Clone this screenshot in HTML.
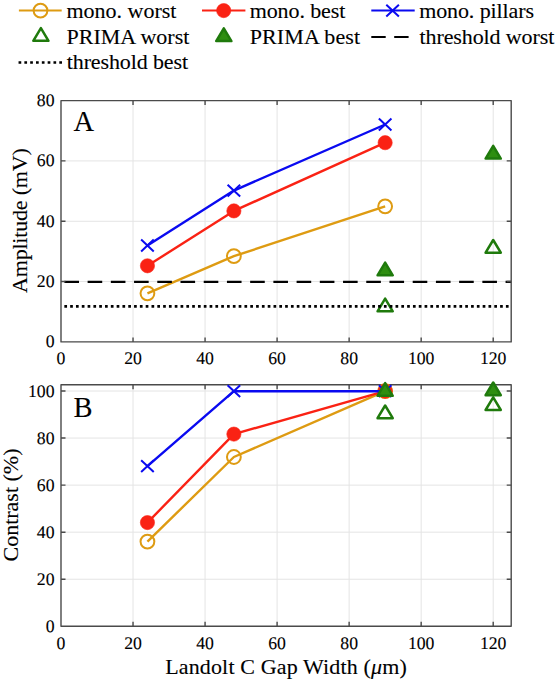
<!DOCTYPE html>
<html><head><meta charset="utf-8"><style>
html,body{margin:0;padding:0;background:#fff;}
svg{display:block;}
text{font-family:"Liberation Serif", serif;fill:#000;}
.b{stroke:#000;stroke-width:0.12px;}
.tk{stroke:#000;stroke-width:0.1px;text-rendering:geometricPrecision;}
</style></head><body>
<svg width="556" height="682" viewBox="0 0 556 682">
<defs>
<clipPath id="ca"><rect x="61.0" y="100.6" width="450.2" height="241.29999999999998"/></clipPath>
<clipPath id="cb"><rect x="61.0" y="384.8" width="450.2" height="241.40000000000003"/></clipPath>
</defs>
<rect width="556" height="682" fill="#fff"/>
<line x1="133.03" y1="100.60" x2="133.03" y2="341.90" stroke="#e4e4e4" stroke-width="1"/>
<line x1="205.07" y1="100.60" x2="205.07" y2="341.90" stroke="#e4e4e4" stroke-width="1"/>
<line x1="277.10" y1="100.60" x2="277.10" y2="341.90" stroke="#e4e4e4" stroke-width="1"/>
<line x1="349.14" y1="100.60" x2="349.14" y2="341.90" stroke="#e4e4e4" stroke-width="1"/>
<line x1="421.17" y1="100.60" x2="421.17" y2="341.90" stroke="#e4e4e4" stroke-width="1"/>
<line x1="493.20" y1="100.60" x2="493.20" y2="341.90" stroke="#e4e4e4" stroke-width="1"/>
<line x1="61.00" y1="281.57" x2="511.20" y2="281.57" stroke="#e4e4e4" stroke-width="1"/>
<line x1="61.00" y1="221.25" x2="511.20" y2="221.25" stroke="#e4e4e4" stroke-width="1"/>
<line x1="61.00" y1="160.92" x2="511.20" y2="160.92" stroke="#e4e4e4" stroke-width="1"/>
<g font-size="17.7">
<text x="61.00" y="364.40" text-anchor="middle" class="tk">0</text>
<text x="133.03" y="364.40" text-anchor="middle" class="tk">20</text>
<text x="205.07" y="364.40" text-anchor="middle" class="tk">40</text>
<text x="277.10" y="364.40" text-anchor="middle" class="tk">60</text>
<text x="349.14" y="364.40" text-anchor="middle" class="tk">80</text>
<text x="421.17" y="364.40" text-anchor="middle" class="tk">100</text>
<text x="493.20" y="364.40" text-anchor="middle" class="tk">120</text>
<text x="54.50" y="347.40" text-anchor="end" class="tk">0</text>
<text x="54.50" y="287.07" text-anchor="end" class="tk">20</text>
<text x="54.50" y="226.75" text-anchor="end" class="tk">40</text>
<text x="54.50" y="166.42" text-anchor="end" class="tk">60</text>
<text x="54.50" y="106.10" text-anchor="end" class="tk">80</text>
</g>
<text class="b" x="73.4" y="131.2" font-size="28.5">A</text>
<path d="M147.44 293.30L233.88 256.20L385.15 206.30" fill="none" stroke="#DE9B12" stroke-width="2.4" stroke-linejoin="round"/>
<circle cx="147.44" cy="293.30" r="6.9" fill="none" stroke="#DE9B12" stroke-width="2"/>
<circle cx="233.88" cy="256.20" r="6.9" fill="none" stroke="#DE9B12" stroke-width="2"/>
<circle cx="385.15" cy="206.30" r="6.9" fill="none" stroke="#DE9B12" stroke-width="2"/>
<path d="M147.44 265.80L233.88 210.90L385.15 142.70" fill="none" stroke="#FA2214" stroke-width="2.4" stroke-linejoin="round"/>
<circle cx="147.44" cy="265.80" r="7.1" fill="#FA2214" stroke="#FA2214" stroke-width="0.6"/>
<circle cx="233.88" cy="210.90" r="7.1" fill="#FA2214" stroke="#FA2214" stroke-width="0.6"/>
<circle cx="385.15" cy="142.70" r="7.1" fill="#FA2214" stroke="#FA2214" stroke-width="0.6"/>
<path d="M147.44 245.50L233.88 190.60L385.15 124.50" fill="none" stroke="#0A0AF0" stroke-width="2.4" stroke-linejoin="round"/>
<path d="M141.14 239.60L153.74 251.40M141.14 251.40L153.74 239.60" stroke="#0A0AF0" stroke-width="2" fill="none"/>
<path d="M227.58 184.70L240.18 196.50M227.58 196.50L240.18 184.70" stroke="#0A0AF0" stroke-width="2" fill="none"/>
<path d="M378.85 118.60L391.45 130.40M378.85 130.40L391.45 118.60" stroke="#0A0AF0" stroke-width="2" fill="none"/>
<path d="M385.15 298.60L392.75 311.30L377.55 311.30Z" fill="none" stroke="#1F7A0C" stroke-width="2.5" stroke-linejoin="round"/>
<path d="M493.20 240.00L500.80 252.70L485.60 252.70Z" fill="none" stroke="#1F7A0C" stroke-width="2.5" stroke-linejoin="round"/>
<path d="M385.15 262.60L392.75 275.30L377.55 275.30Z" fill="#2E8E10" stroke="#1F7A0C" stroke-width="2.5" stroke-linejoin="round"/>
<path d="M493.20 145.90L500.80 158.60L485.60 158.60Z" fill="#2E8E10" stroke="#1F7A0C" stroke-width="2.5" stroke-linejoin="round"/>
<g clip-path="url(#ca)">
<line x1="64.4" y1="281.8" x2="530" y2="281.8" stroke="#000" stroke-width="2.2" stroke-dasharray="14.6 8.62"/>
<line x1="64.35" y1="306.4" x2="508.6" y2="306.4" stroke="#000" stroke-width="2.7" stroke-dasharray="2.7 3.11"/>
</g>
<rect x="61.00" y="100.60" width="450.20" height="241.30" fill="none" stroke="#4a4a4a" stroke-width="1.4" stroke-linejoin="round"/>
<path d="M133.03 341.90V337.40M133.03 100.60V105.10M205.07 341.90V337.40M205.07 100.60V105.10M277.10 341.90V337.40M277.10 100.60V105.10M349.14 341.90V337.40M349.14 100.60V105.10M421.17 341.90V337.40M421.17 100.60V105.10M493.20 341.90V337.40M493.20 100.60V105.10M61.00 281.57H65.50M511.20 281.57H506.70M61.00 221.25H65.50M511.20 221.25H506.70M61.00 160.92H65.50M511.20 160.92H506.70" stroke="#4a4a4a" stroke-width="1.4" fill="none"/>
<line x1="133.03" y1="384.80" x2="133.03" y2="626.20" stroke="#e4e4e4" stroke-width="1"/>
<line x1="205.07" y1="384.80" x2="205.07" y2="626.20" stroke="#e4e4e4" stroke-width="1"/>
<line x1="277.10" y1="384.80" x2="277.10" y2="626.20" stroke="#e4e4e4" stroke-width="1"/>
<line x1="349.14" y1="384.80" x2="349.14" y2="626.20" stroke="#e4e4e4" stroke-width="1"/>
<line x1="421.17" y1="384.80" x2="421.17" y2="626.20" stroke="#e4e4e4" stroke-width="1"/>
<line x1="493.20" y1="384.80" x2="493.20" y2="626.20" stroke="#e4e4e4" stroke-width="1"/>
<line x1="61.00" y1="579.24" x2="511.20" y2="579.24" stroke="#e4e4e4" stroke-width="1"/>
<line x1="61.00" y1="532.18" x2="511.20" y2="532.18" stroke="#e4e4e4" stroke-width="1"/>
<line x1="61.00" y1="485.12" x2="511.20" y2="485.12" stroke="#e4e4e4" stroke-width="1"/>
<line x1="61.00" y1="438.06" x2="511.20" y2="438.06" stroke="#e4e4e4" stroke-width="1"/>
<line x1="61.00" y1="391.00" x2="511.20" y2="391.00" stroke="#e4e4e4" stroke-width="1"/>
<g font-size="17.7">
<text x="61.00" y="648.70" text-anchor="middle" class="tk">0</text>
<text x="133.03" y="648.70" text-anchor="middle" class="tk">20</text>
<text x="205.07" y="648.70" text-anchor="middle" class="tk">40</text>
<text x="277.10" y="648.70" text-anchor="middle" class="tk">60</text>
<text x="349.14" y="648.70" text-anchor="middle" class="tk">80</text>
<text x="421.17" y="648.70" text-anchor="middle" class="tk">100</text>
<text x="493.20" y="648.70" text-anchor="middle" class="tk">120</text>
<text x="54.50" y="631.80" text-anchor="end" class="tk">0</text>
<text x="54.50" y="584.74" text-anchor="end" class="tk">20</text>
<text x="54.50" y="537.68" text-anchor="end" class="tk">40</text>
<text x="54.50" y="490.62" text-anchor="end" class="tk">60</text>
<text x="54.50" y="443.56" text-anchor="end" class="tk">80</text>
<text x="54.50" y="396.50" text-anchor="end" class="tk">100</text>
</g>
<text class="b" x="73.5" y="417" font-size="28.5">B</text>
<rect x="61.00" y="384.80" width="450.20" height="241.40" fill="none" stroke="#4a4a4a" stroke-width="1.4" stroke-linejoin="round"/>
<path d="M133.03 626.20V621.70M133.03 384.80V389.30M205.07 626.20V621.70M205.07 384.80V389.30M277.10 626.20V621.70M277.10 384.80V389.30M349.14 626.20V621.70M349.14 384.80V389.30M421.17 626.20V621.70M421.17 384.80V389.30M493.20 626.20V621.70M493.20 384.80V389.30M61.00 579.24H65.50M511.20 579.24H506.70M61.00 532.18H65.50M511.20 532.18H506.70M61.00 485.12H65.50M511.20 485.12H506.70M61.00 438.06H65.50M511.20 438.06H506.70M61.00 391.00H65.50M511.20 391.00H506.70" stroke="#4a4a4a" stroke-width="1.4" fill="none"/>
<path d="M147.44 541.60L233.88 457.00L385.15 391.20" fill="none" stroke="#DE9B12" stroke-width="2.4" stroke-linejoin="round"/>
<circle cx="147.44" cy="541.60" r="6.9" fill="none" stroke="#DE9B12" stroke-width="2"/>
<circle cx="233.88" cy="457.00" r="6.9" fill="none" stroke="#DE9B12" stroke-width="2"/>
<circle cx="385.15" cy="391.20" r="6.9" fill="none" stroke="#DE9B12" stroke-width="2"/>
<path d="M147.44 522.60L233.88 434.10L385.15 391.20" fill="none" stroke="#FA2214" stroke-width="2.4" stroke-linejoin="round"/>
<circle cx="147.44" cy="522.60" r="7.1" fill="#FA2214" stroke="#FA2214" stroke-width="0.6"/>
<circle cx="233.88" cy="434.10" r="7.1" fill="#FA2214" stroke="#FA2214" stroke-width="0.6"/>
<circle cx="385.15" cy="391.20" r="7.1" fill="#FA2214" stroke="#FA2214" stroke-width="0.6"/>
<path d="M147.44 466.10L233.88 391.20L385.15 391.20" fill="none" stroke="#0A0AF0" stroke-width="2.4" stroke-linejoin="round"/>
<path d="M141.14 460.20L153.74 472.00M141.14 472.00L153.74 460.20" stroke="#0A0AF0" stroke-width="2" fill="none"/>
<path d="M227.58 385.30L240.18 397.10M227.58 397.10L240.18 385.30" stroke="#0A0AF0" stroke-width="2" fill="none"/>
<path d="M378.85 385.30L391.45 397.10M378.85 397.10L391.45 385.30" stroke="#0A0AF0" stroke-width="2" fill="none"/>
<path d="M385.15 405.50L392.75 418.20L377.55 418.20Z" fill="none" stroke="#1F7A0C" stroke-width="2.5" stroke-linejoin="round"/>
<path d="M493.20 397.30L500.80 410.00L485.60 410.00Z" fill="none" stroke="#1F7A0C" stroke-width="2.5" stroke-linejoin="round"/>
<path d="M385.15 383.10L392.75 395.80L377.55 395.80Z" fill="#2E8E10" stroke="#1F7A0C" stroke-width="2.5" stroke-linejoin="round"/>
<path d="M493.20 382.50L500.80 395.20L485.60 395.20Z" fill="#2E8E10" stroke="#1F7A0C" stroke-width="2.5" stroke-linejoin="round"/>
<text class="b" x="286" y="673.8" font-size="22" text-anchor="middle" textLength="241.6" lengthAdjust="spacing">Landolt C Gap Width (<tspan font-style="italic">μ</tspan>m)</text>
<text class="b" transform="translate(26.5 220.6) rotate(-90)" font-size="22" text-anchor="middle" textLength="144.8" lengthAdjust="spacing">Amplitude (mV)</text>
<text class="b" transform="translate(18.4 505) rotate(-90)" font-size="22" text-anchor="middle">Contrast (%)</text>
<line x1="18.9" y1="10.6" x2="61.7" y2="10.6" stroke="#DE9B12" stroke-width="2" />
<circle cx="40.50" cy="10.60" r="6.9" fill="none" stroke="#DE9B12" stroke-width="2"/>
<line x1="202" y1="10.6" x2="245.4" y2="10.6" stroke="#FA2214" stroke-width="2" />
<circle cx="223.70" cy="10.60" r="7.1" fill="#FA2214" stroke="#FA2214" stroke-width="0.6"/>
<line x1="371.3" y1="10.6" x2="414.7" y2="10.6" stroke="#0A0AF0" stroke-width="2" />
<path d="M386.30 4.70L398.90 16.50M386.30 16.50L398.90 4.70" stroke="#0A0AF0" stroke-width="2" fill="none"/>
<path d="M40.90 28.10L48.50 40.80L33.30 40.80Z" fill="none" stroke="#1F7A0C" stroke-width="2.5" stroke-linejoin="round"/>
<path d="M223.80 28.40L231.40 41.10L216.20 41.10Z" fill="#2E8E10" stroke="#1F7A0C" stroke-width="2.5" stroke-linejoin="round"/>
<line x1="371.3" y1="36.9" x2="414.7" y2="36.9" stroke="#000" stroke-width="2" stroke-dasharray="14.4 8.5"/>
<line x1="18.55" y1="62.5" x2="62" y2="62.5" stroke="#000" stroke-width="2.7" stroke-dasharray="2.7 3.12"/>
<g font-size="22">
<text class="b" x="66.4" y="18.3">mono. worst</text>
<text class="b" x="249.7" y="18.3" textLength="95.6" lengthAdjust="spacing">mono. best</text>
<text class="b" x="419.2" y="18.3" textLength="114.8" lengthAdjust="spacing">mono. pillars</text>
<text class="b" x="66.5" y="43.8">PRIMA worst</text>
<text class="b" x="249.7" y="43.8" textLength="110.4" lengthAdjust="spacing">PRIMA best</text>
<text class="b" x="419.5" y="43.8" textLength="134.8" lengthAdjust="spacing">threshold worst</text>
<text class="b" x="66.8" y="68.8" textLength="121.2" lengthAdjust="spacing">threshold best</text>
</g>
</svg></body></html>
